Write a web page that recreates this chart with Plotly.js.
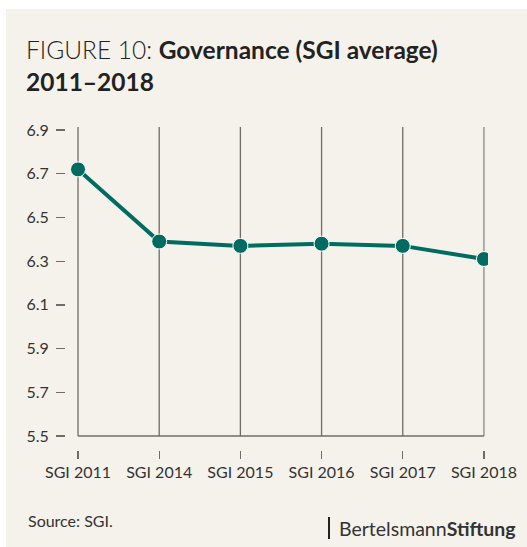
<!DOCTYPE html>
<html>
<head>
<meta charset="utf-8">
<script src="https://cdn.plot.ly/plotly-3.0.1.min.js"></script>
<style>
html,body{margin:0;padding:0;background:#ffffff;}
#chart{position:absolute;left:6px;top:9px;width:521px;height:538px;}
</style>
</head>
<body>
<div id="chart"></div>
<script>
// Data
const categories = ["SGI 2011", "SGI 2014", "SGI 2015", "SGI 2016", "SGI 2017", "SGI 2018"];
const values = [6.72, 6.39, 6.37, 6.38, 6.37, 6.31];
const yTickVals = [5.5, 5.7, 5.9, 6.1, 6.3, 6.5, 6.7, 6.9];
const yTickText = ["5.5", "5.7", "5.9", "6.1", "6.3", "6.5", "6.7", "6.9"];
const yBase = 5.5;
const yTop = 6.914;

const font = "Lato, 'Open Sans', sans-serif";
const teal = "#006b61";
const gridCol = "#6f6b67";
const bg = "#f5f2eb";

// vertical grid lines per category, drawn from the data categories
const gx = [], gy = [];
categories.slice(0, -1).forEach(c => { gx.push(c, c, null); gy.push(yBase, yTop, null); });
const lastCat = categories[categories.length - 1];

const traces = [
  {x: gx, y: gy, type: 'scatter', mode: 'lines', line: {color: gridCol, width: 1.3}, hoverinfo: 'skip', showlegend: false},
  {x: [lastCat, lastCat], y: [yBase, yTop], type: 'scatter', mode: 'lines', line: {color: '#9a9692', width: 1.5}, hoverinfo: 'skip', showlegend: false},
  {x: [categories[0], lastCat], y: [yBase, yBase], type: 'scatter', mode: 'lines', line: {color: gridCol, width: 1.6}, hoverinfo: 'skip', showlegend: false},
  {x: categories, y: values, type: 'scatter', mode: 'lines+markers',
   line: {color: teal, width: 4},
   marker: {color: teal, size: 15, line: {color: '#ffffff', width: 1}},
   showlegend: false}
];

const layout = {
  width: 521, height: 538,
  paper_bgcolor: bg, plot_bgcolor: bg,
  margin: {l: 60, r: 39, t: 118, b: 97},
  showlegend: false,
  title: {
    text: "<span style='font-weight:300'>FIGURE 10: </span><b>Governance (SGI average)</b><br><b>2011–2018</b>",
    x: 20/521, xanchor: 'left', xref: 'container',
    y: 1 - 50/538, yanchor: 'top', yref: 'container',
    font: {family: font, size: 24.5, color: '#222222'}
  },
  xaxis: {
    type: 'category',
    range: [-0.148, 5.05],
    showgrid: false, zeroline: false, showline: false,
    ticks: 'outside', ticklen: 8, tickwidth: 1.3, tickcolor: gridCol,
    tickfont: {family: font, size: 16, color: '#333333'},
    fixedrange: true
  },
  yaxis: {
    range: [5.436, yTop],
    tickvals: yTickVals, ticktext: yTickText,
    showgrid: false, zeroline: false, showline: false,
    ticks: 'outside', ticklen: 9, tickwidth: 1.3, tickcolor: gridCol,
    ticklabelstandoff: 4,
    tickfont: {family: font, size: 16, color: '#333333'},
    fixedrange: true
  },
  annotations: [
    {text: "Source: SGI.", xref: 'paper', yref: 'paper', x: -40/422, y: -59/323,
     xanchor: 'left', yanchor: 'top', showarrow: false,
     font: {family: font, size: 16, color: '#333333'}},
    {text: "Bertelsmann<b>Stiftung</b>", xref: 'paper', yref: 'paper', x: (518-66)/422, y: -65/323,
     xanchor: 'right', yanchor: 'top', showarrow: false,
     font: {family: font, size: 19.5, color: '#333333'}}
  ],
  shapes: [
    {type: 'line', xref: 'paper', yref: 'paper', x0: (329-66)/422, x1: (329-66)/422,
     y0: -(517-450)/323, y1: -(539-450)/323, line: {color: '#222222', width: 2}}
  ]
};

Plotly.newPlot('chart', traces, layout, {displayModeBar: false, staticPlot: true});
</script>
</body>
</html>
